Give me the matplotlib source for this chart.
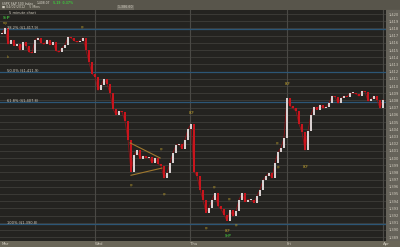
import matplotlib
matplotlib.use("Agg")
import matplotlib.pyplot as plt
from matplotlib.patches import Rectangle

# 5-minute closes, S&P 500, Tue Mar 27 -> Mon Apr 2
closes = [
    1417.2, 1418.1, 1415.8, 1416.4, 1415.6, 1415.8, 1415.0, 1416.1, 1415.6, 1414.7,
    1414.6, 1416.4, 1416.7, 1416.0, 1415.8, 1416.4, 1415.7, 1416.1, 1414.9, 1414.7,
    1415.3, 1415.7, 1416.8, 1416.7, 1416.3, 1416.1, 1416.3, 1416.7, 1415.0, 1413.3,
    1411.7, 1411.3, 1409.4, 1410.1, 1411.0, 1410.3, 1409.0, 1406.8, 1406.0, 1406.5,
    1406.4, 1405.1, 1402.5, 1398.1, 1400.4, 1401.1, 1399.9, 1400.3, 1400.0, 1400.1,
    1399.3, 1400.0, 1399.2, 1398.9, 1397.2, 1397.9, 1399.3, 1400.7, 1401.8, 1401.9,
    1401.3, 1402.5, 1404.0, 1404.7, 1398.1, 1397.5, 1395.6, 1394.2, 1392.4, 1393.1,
    1394.2, 1395.1, 1393.3, 1392.9, 1392.1, 1391.3, 1392.8, 1391.9, 1392.6, 1394.2,
    1395.1, 1393.9, 1394.2, 1394.2, 1393.8, 1394.7, 1395.6, 1396.9, 1397.5, 1397.9,
    1397.2, 1399.3, 1400.8, 1401.4, 1402.8, 1408.3, 1407.2, 1406.9, 1406.5, 1404.7,
    1403.6, 1401.1, 1403.8, 1406.0, 1407.1, 1406.7, 1407.4, 1406.9, 1407.1, 1407.6,
    1408.6, 1408.5, 1407.6, 1408.3, 1408.6, 1408.5, 1409.0, 1409.0, 1408.9, 1408.6,
    1409.3, 1409.2, 1407.9, 1408.2, 1408.6, 1408.1, 1406.9, 1408.1,
]
session_starts = [0, 31, 62.67, 95, 127]
session_labels = ["Mar", "Wed", "Thu", "Fri", "Apr"]

fib_levels = [1417.9, 1411.9, 1407.8, 1390.8]
fib_labels = ["38.2% ($1,417.9)", "50.0% ($1,411.9)", "61.8% ($1,407.8)", "100% ($1,390.8)"]

# triangle trendlines: (start bar, start price, end bar, end price)
tri_upper = [42.7, 1402.1, 52.7, 1400.0]
tri_lower = [43.0, 1397.6, 53.3, 1398.6]

# small pivot tags drawn on the chart
tag_x = [26.7, 2, 63, 53.3, 43.3, 54.3, 71, 76, 68.3, 75.3, 91.7, 92.3, 95, 101, 78.3]
tag_y = [1418.2, 1414.0, 1406.3, 1401.3, 1396.3, 1395.0, 1396.0, 1394.3, 1390.3,
         1389.9, 1402.1, 1398.8, 1410.3, 1398.8, 1390.7]
tag_txt = ["sp", "b", "EKP", "sp", "sp", "sp", "sp", "sp", "sp", "EKP", "sp", "sp",
           "EKP", "EKP", "sp"]

BG = "#58554b"
PANEL = "#242320"
GRID = "#3b3a36"
TXT = "#d2cdc0"

fig = plt.figure(figsize=(4.0, 2.47), dpi=100, facecolor=BG)
W, H = 400, 247
ax = fig.add_axes([0 / W, (H - 241) / H, 386 / W, 231 / H])
ax.set_facecolor(PANEL)

# right price strip and bottom time strip (behind the axes)
fig.patches.append(Rectangle((386 / W, 6 / H), 14 / W, 231 / H, transform=fig.transFigure,
                             color="#66635a", zorder=-2))
fig.patches.append(Rectangle((0, 0), 1, 6 / H, transform=fig.transFigure,
                             color="#6a6658", zorder=-2))

ymin, ymax = 1388.47, 1420.56
ax.set_xlim(-0.67, 128.0)
ax.set_ylim(ymin, ymax)

for p in range(1389, 1421):
    ax.axhline(p, color=GRID, lw=0.7, zorder=1)
for s in session_starts[1:]:
    ax.axvline(s, color="#4a4945", lw=0.8, zorder=1)
for lv, lb in zip(fib_levels, fib_labels):
    ax.axhline(lv, color="#2c5676", lw=0.9, zorder=2)
    ax.text(1.8, lv + 0.25, lb, fontsize=2.6, color=TXT, va="center", zorder=5)

# candles: body from previous close to close
prev = closes[0]
ax.plot(range(len(closes)), closes, color="#8e1217", lw=0.6, zorder=3)
for i, c in enumerate(closes):
    lo, hi = min(prev, c), max(prev, c)
    col = "#c8151d" if c < prev else "#d8d0d0"
    ax.bar(i, max(hi - lo, 0.15), bottom=lo, width=0.5, color=col, lw=0, zorder=4)
    prev = c

ax.plot(tri_upper[0::2], tri_upper[1::2], color="#a0782e", lw=0.8, zorder=5)
ax.plot(tri_lower[0::2], tri_lower[1::2], color="#a0782e", lw=0.8, zorder=5)

for x, y, t in zip(tag_x, tag_y, tag_txt):
    ax.text(x, y, t, fontsize=2.2, color="#b79a2c", ha="center", va="center", zorder=6)
ax.text(75.3, 1389.2, "S-P", fontsize=2.6, color="#3fa83a", ha="center", va="center",
        weight="bold", zorder=6)

ax.text(0.023, 0.987, "5 minute chart", transform=ax.transAxes, fontsize=2.6, color=TXT,
        va="center")
ax.text(0.008, 0.965, "S-P", transform=ax.transAxes, fontsize=3.0, color="#3fa83a",
        va="center", weight="bold")
ax.text(0.008, 0.945, "ssp", transform=ax.transAxes, fontsize=2.2, color="#b79a2c",
        va="center")

# price axis on the right
ax.yaxis.tick_right()
ax.set_yticks(range(1389, 1421))
ax.set_yticklabels([f"{p:,}" for p in range(1389, 1421)], fontsize=2.6, color=TXT)
ax.tick_params(axis="y", length=0, pad=2)
ax.set_xticks(session_starts)
ax.set_xticklabels(session_labels, fontsize=2.8, color=TXT)
ax.tick_params(axis="x", length=0, pad=0.8)
for lbl in ax.get_xticklabels():
    lbl.set_horizontalalignment("left")
for sp in ax.spines.values():
    sp.set_visible(False)

# header rows
fig.text(2 / W, 1 - 3.5 / H, "$SPX S&P 500 Index", fontsize=2.2, color="#e0ddd2",
         va="center")
fig.text(37 / W, 1 - 3.5 / H, "1,408.07", fontsize=2.2, color="#e0ddd2", va="center")
fig.text(53 / W, 1 - 3.5 / H, "5.19  0.37%", fontsize=2.2, color="#3cc63c", va="center",
         weight="bold")
fig.text(2 / W, 1 - 7.3 / H, "\u25a0 04/02/2012    5 Mins", fontsize=2.3, color=TXT, va="center")
fig.text(117 / W, 1 - 7.3 / H, " 1,386.60 ", fontsize=2.3, color=TXT, va="center",
         bbox=dict(boxstyle="square,pad=0.1", fc="#6e6b61", ec="none"))

fig.savefig("out.png", dpi=100, facecolor=BG)
